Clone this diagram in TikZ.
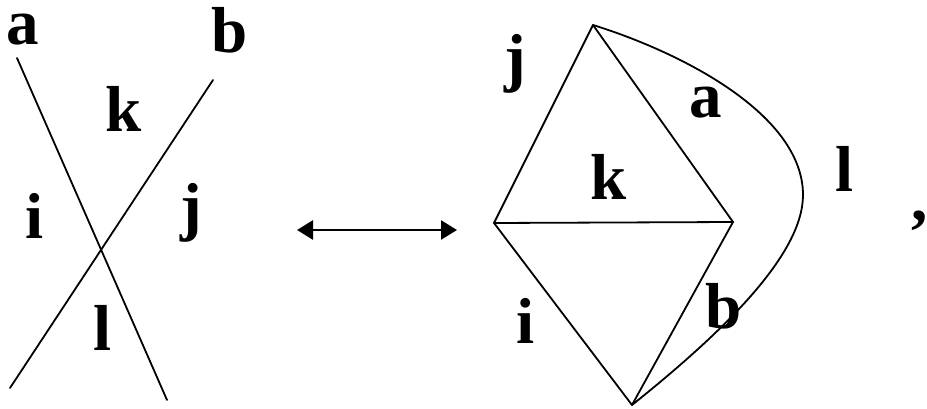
\documentclass[tikz,border=0pt]{standalone}
\usepackage{fontspec}
\setmainfont{Liberation Serif}
\usetikzlibrary{arrows.meta}
\begin{document}
\begin{tikzpicture}[x=1pt,y=-1pt,
  lbl/.style={font=\fontsize{65}{65}\selectfont\bfseries, inner sep=0pt, anchor=base},
  edge/.style={line width=1.8pt, line cap=round, line join=round},
  dbl/.style={line width=2.6pt, {Triangle[length=16pt,width=19pt]}-{Triangle[length=16pt,width=19pt]}}]
\useasboundingbox (0,0) rectangle (927,409);
% left crossing
\coordinate (a1) at (17,58);
\coordinate (a2) at (167,400);
\coordinate (b1) at (213,80);
\coordinate (b2) at (10,388);
\draw[edge] (a1) -- (a2);
\draw[edge] (b1) -- (b2);
\node[lbl] (la) at (23,45) {a};
\node[lbl] (lb) at (230,53) {b};
\node[lbl] (lk) at (124,132) {k};
\node[lbl] (li) at (35,238) {i};
\node[lbl] (lj) at (191,228) {j};
\node[lbl] (ll) at (103,350) {l};
% arrow
\coordinate (p1) at (297,230);
\coordinate (p2) at (457,230);
\draw[dbl] (p1) -- (p2);
% right figure
\coordinate (T) at (593,25);
\coordinate (L) at (494,223);
\coordinate (R) at (733,222);
\coordinate (B) at (632,405);
\coordinate (M) at (803,195);
\draw[edge] (T) -- (L) -- (B) -- (R) -- (T);
\draw[edge] (L) -- (R);
\draw[edge] (T) .. controls (683,53) and (803,115) .. (M)
             .. controls (803,255) and (722,333) .. (B);
\node[lbl] (rj) at (515,80) {j};
\node[lbl] (ra) at (706,118) {a};
\node[lbl] (rk) at (609,200) {k};
\node[lbl] (ri) at (526,343) {i};
\node[lbl] (rb) at (724,328) {b};
\node[lbl] (rl) at (845,192) {l};
\node[lbl] (comma) at (920,220) {,};
\end{tikzpicture}
\end{document}
